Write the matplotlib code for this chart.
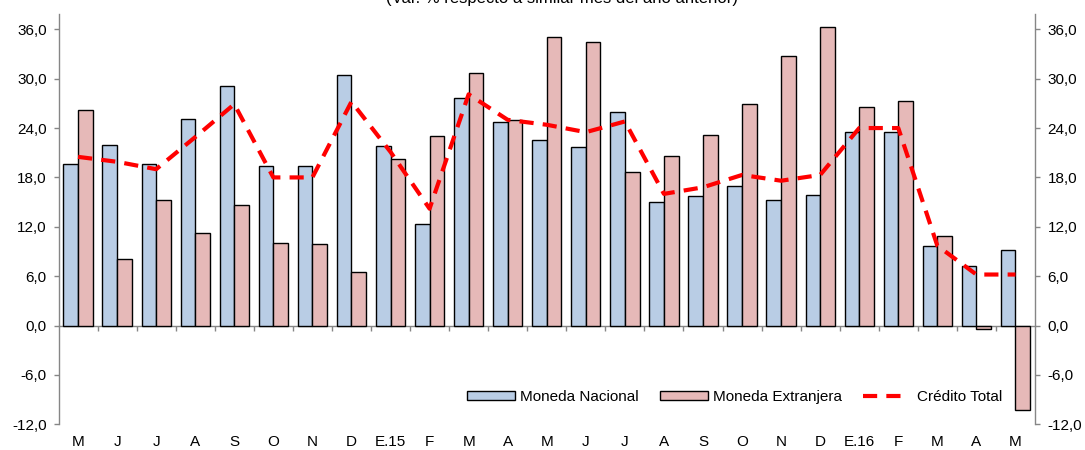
import matplotlib
matplotlib.use('Agg')
import matplotlib.pyplot as plt
import numpy as np
from matplotlib.patches import Patch
from matplotlib.lines import Line2D

# ---------------- data ----------------
categories = ['M', 'J', 'J', 'A', 'S', 'O', 'N', 'D', 'E.15', 'F', 'M', 'A',
              'M', 'J', 'J', 'A', 'S', 'O', 'N', 'D', 'E.16', 'F', 'M', 'A', 'M']
moneda_nacional = [19.6, 22.0, 19.6, 25.1, 29.1, 19.4, 19.4, 30.4, 21.8, 12.3, 27.7, 24.7,
                   22.5, 21.7, 26.0, 15.0, 15.7, 17.0, 15.2, 15.9, 23.5, 23.5, 9.7, 7.2, 9.2]
moneda_extranjera = [26.2, 8.1, 15.3, 11.3, 14.6, 10.0, 9.9, 6.5, 20.2, 23.0, 30.7, 25.0,
                     35.1, 34.4, 18.7, 20.6, 23.1, 26.9, 32.7, 36.3, 26.6, 27.3, 10.9, -0.4, -10.3]
credito_total = [20.5, 19.9, 19.0, 22.9, 26.9, 18.0, 18.0, 27.2, 21.1, 14.2, 28.1, 25.0,
                 24.4, 23.5, 24.8, 16.0, 16.8, 18.3, 17.6, 18.3, 24.0, 24.0, 9.7, 6.2, 6.2]
yticks = [-12, -6, 0, 6, 12, 18, 24, 30, 36]
ytick_labels = ['-12,0', '-6,0', '0,0', '6,0', '12,0', '18,0', '24,0', '30,0', '36,0']
legend_labels = ['Moneda Nacional', 'Moneda Extranjera', 'Crédito Total']
title = '(Var. % respecto a similar mes del año anterior)'

# ---------------- style ----------------
plt.rcParams['font.family'] = ['Liberation Sans', 'DejaVu Sans']
BLUE = '#B9CDE5'
RED = '#E6B9B8'
LINE = '#FF0000'
GRAY = '#868686'
FS = 11

fig = plt.figure(figsize=(10.85, 4.5), dpi=100)
ax = fig.add_axes([58.5 / 1085, 1 - 424.3 / 450, (1035 - 58.5) / 1085, (424.3 - 14) / 450])

n = len(categories)
x = np.arange(n)
w = 0.375
ax.bar(x - w / 2, moneda_nacional, w, color=BLUE, edgecolor='black', linewidth=1.0, zorder=2)
ax.bar(x + w / 2, moneda_extranjera, w, color=RED, edgecolor='black', linewidth=1.0, zorder=2)
dash = (0, (3.4, 2.2))
ax.plot(x, credito_total, color=LINE, lw=3, linestyle=dash, zorder=3)

ax.set_xlim(-0.5, n - 0.5)
ax.set_ylim(-12, 37.86)

# category labels at bottom
ax.set_xticks(x)
ax.set_xticklabels(categories)
ax.tick_params(axis='x', length=0, pad=8, labelsize=FS, colors='black')

# y axis left
ax.set_yticks(yticks)
ax.set_yticklabels(ytick_labels)
ax.tick_params(axis='y', direction='out', length=3.5, width=1.0, color=GRAY,
               pad=5, labelsize=FS, labelcolor='black')
for s in ['top', 'bottom', 'right']:
    ax.spines[s].set_visible(False)
ax.spines['left'].set_color(GRAY)
ax.spines['left'].set_linewidth(1.0)

# zero line with category boundary ticks
sec = ax.secondary_xaxis(0, transform=ax.transData)
sec.set_xticks(np.arange(1, n) - 0.5)
sec.tick_params(axis='x', direction='out', length=3.5, width=1.0, color=GRAY,
                labelbottom=False)
sec.spines['bottom'].set_color(GRAY)
sec.spines['bottom'].set_linewidth(1.0)

# right axis
ax2 = ax.twinx()
ax2.set_ylim(ax.get_ylim())
ax2.set_yticks(yticks)
ax2.set_yticklabels(ytick_labels)
ax2.tick_params(axis='y', direction='out', length=3.5, width=1.0, color=GRAY,
                pad=5.5, labelsize=FS, labelcolor='black')
for s in ['top', 'bottom', 'left']:
    ax2.spines[s].set_visible(False)
ax2.spines['right'].set_color(GRAY)
ax2.spines['right'].set_linewidth(1.0)

# legend
handles = [Patch(facecolor=BLUE, edgecolor='black', linewidth=1.0),
           Patch(facecolor=RED, edgecolor='black', linewidth=1.0),
           Line2D([], [], color=LINE, lw=3, linestyle=(0, (3.4, 2.2, 3.4, 6.0)))]
ax2.legend(handles, legend_labels, loc='center', ncol=3, frameon=False,
           bbox_to_anchor=(734.3 / 1085, 1 - 396.7 / 450), bbox_transform=fig.transFigure,
           fontsize=FS, handlelength=3.17, handleheight=0.56, handletextpad=0.33,
           columnspacing=1.37, borderpad=0, borderaxespad=0)

fig.text(562 / 1085, 1 - 3.5 / 450, title, ha='center', va='baseline', fontsize=12)

fig.savefig('out.png', dpi=100)
